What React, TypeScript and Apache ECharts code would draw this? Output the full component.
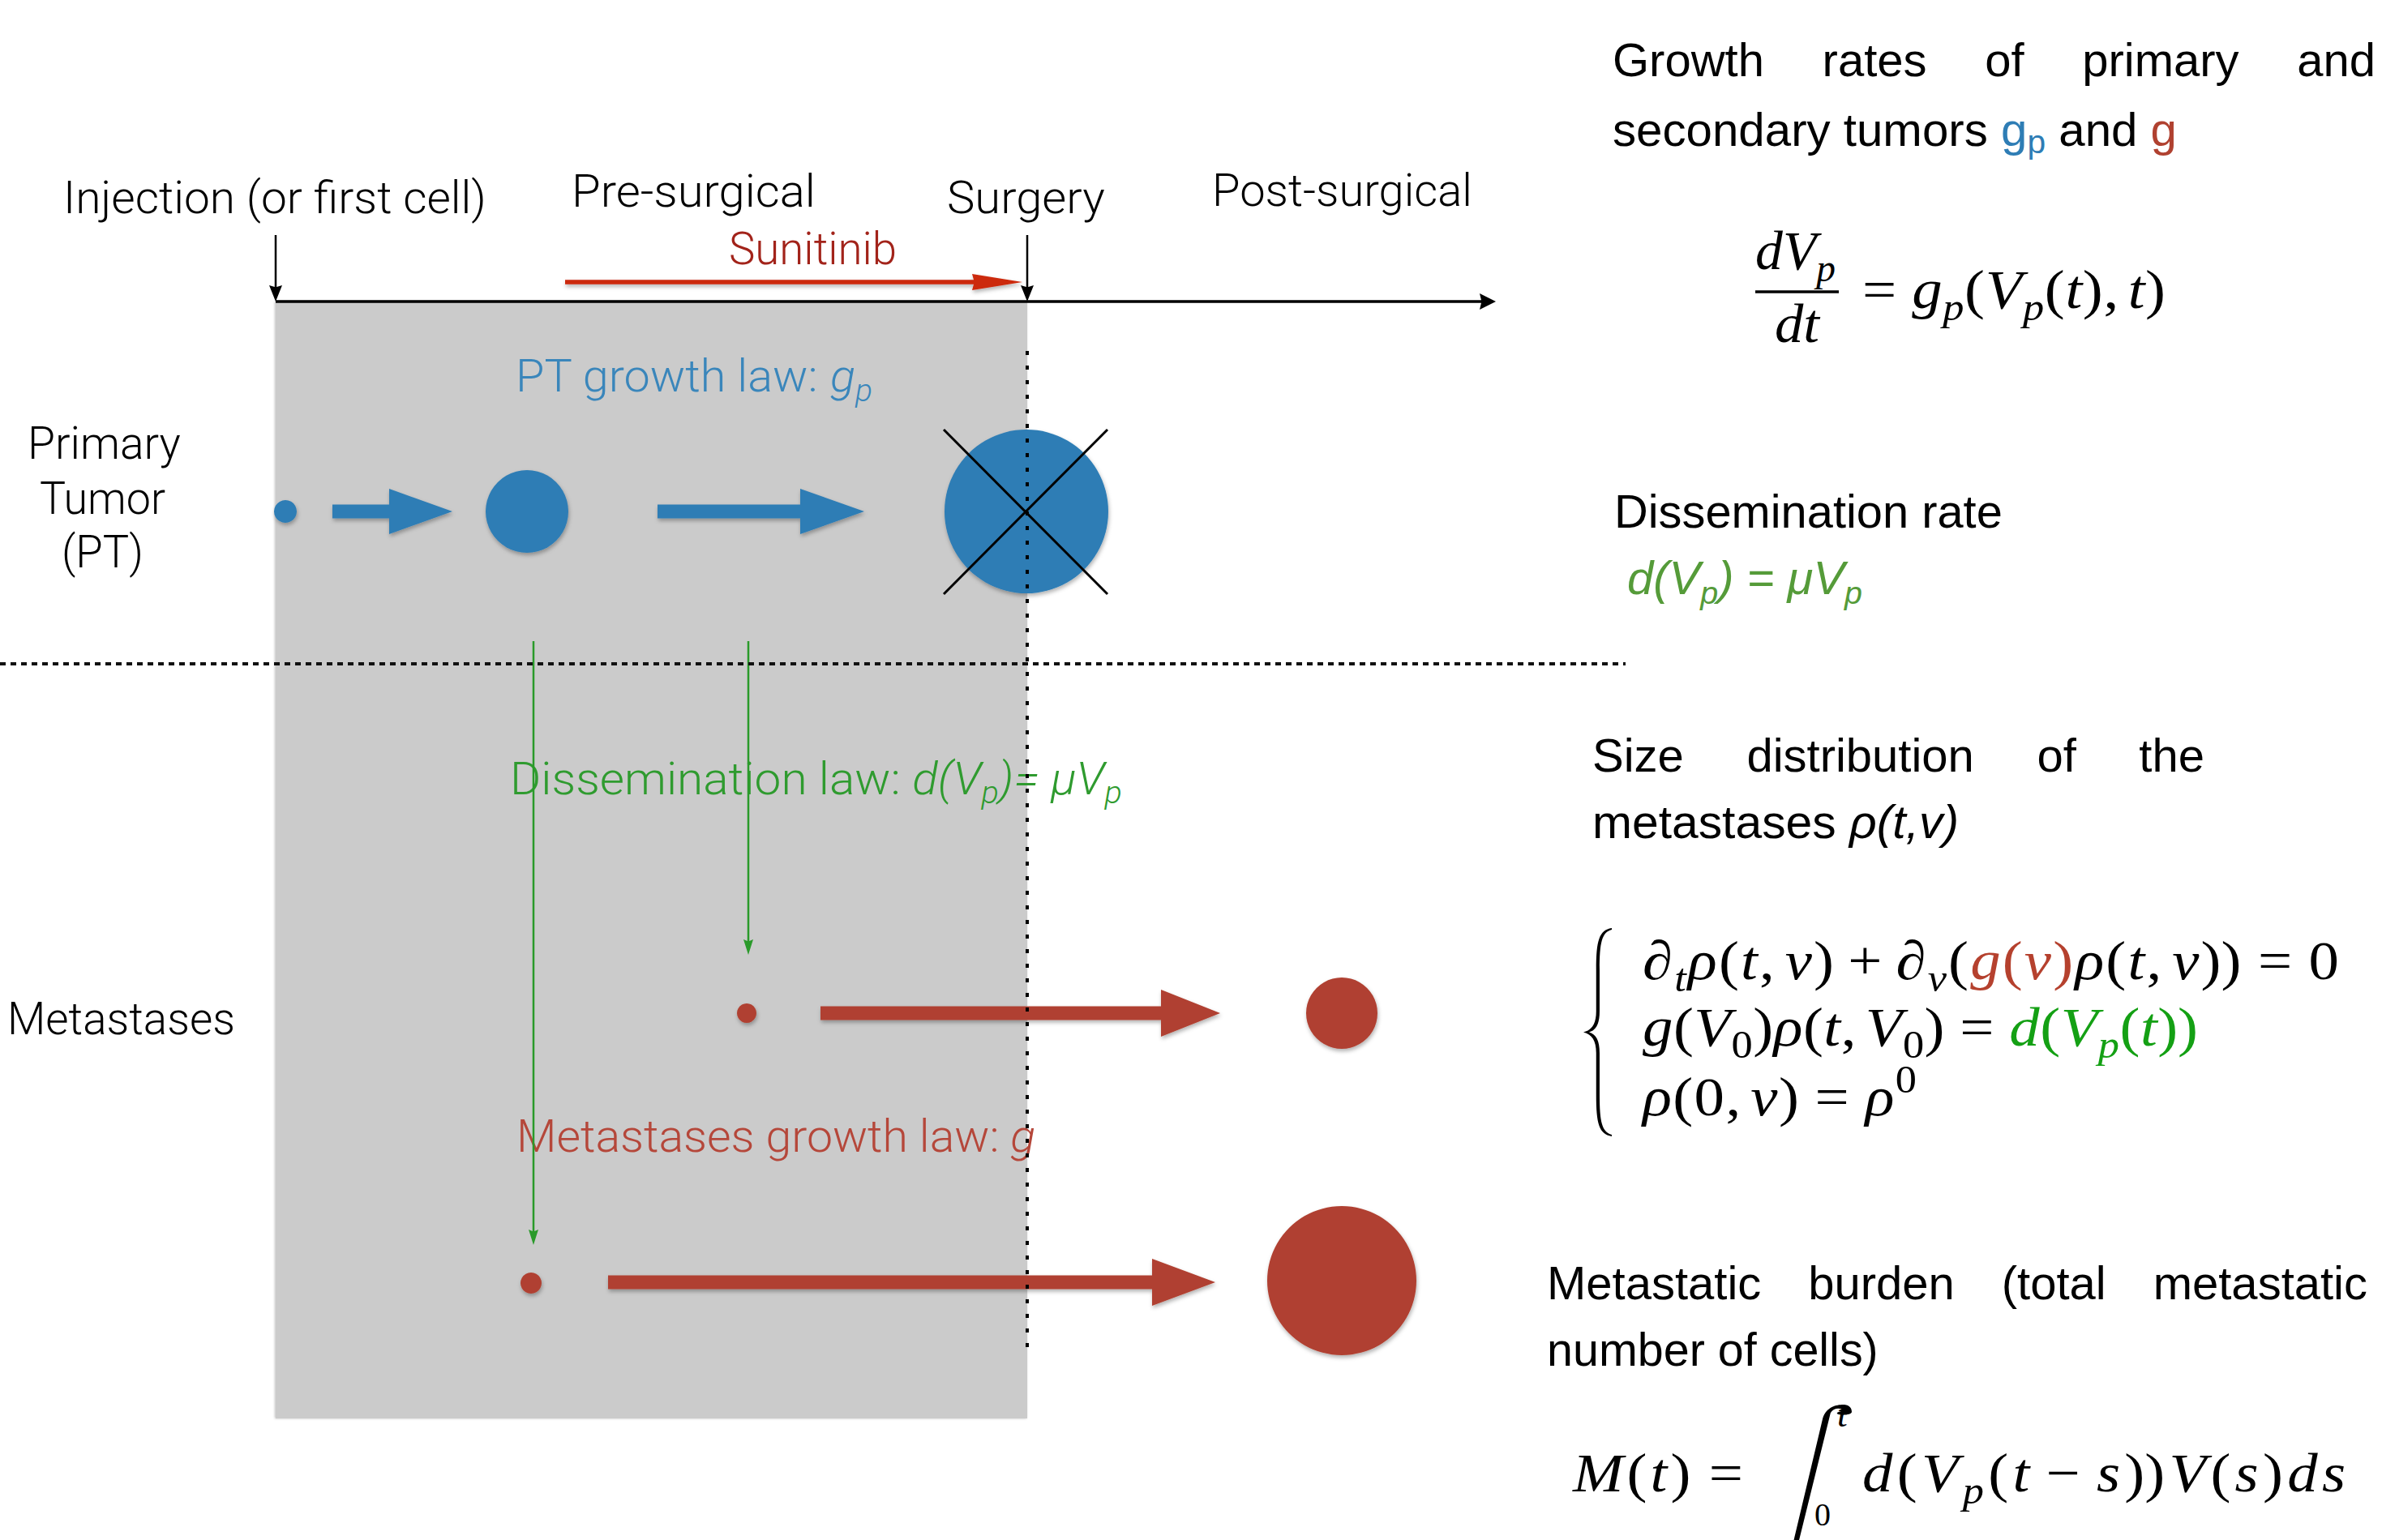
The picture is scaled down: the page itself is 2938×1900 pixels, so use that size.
import React, { useEffect, useRef } from 'react';
import * as echarts from 'echarts';

const CANVAS_W = 2938;
const CANVAS_H = 1900;

// ---------------- colours ----------------
const BLUE = '#2e7db5';
const RED = '#b04130';
const GRAY = '#cbcbcb';
const GREEN_LINE = '#2a9a2a';
const LABEL_BLUE = '#3a86bb';
const LABEL_GREEN = '#2f9b2f';
const LABEL_RED = '#b5473a';
const DRUG_RED = '#a2231a';
const DRUG_ARROW = '#cc2a0e';
const RATE_GREEN = '#559b39';
const EQ_GREEN = '#14a014';
const EQ_RED = '#b5412e';

// ---------------- geometry (diagram units = px of the reference) ----------------
const panelRect = [[340, 372, 1267, 1750]];
const phaseDivider = [[1267, 433, 1267, 1662]];
const compartmentDivider = [[0, 819, 2005, 819]];
const timeAxis = [[340, 372, 1845, 372]];
const eventArrows = [[340, 290, 340, 372], [1267, 290, 1267, 372]];
const drugArrow = [[697, 348, 1261, 348]];
const disseminationArrows = [[658, 791, 658, 1536], [923, 791, 923, 1178]];
// [x start, x head start, x tip, y]
const ptGrowthArrows = [[410, 480, 558, 631], [811, 987, 1066, 631]];
const metGrowthArrows = [[1012, 1432, 1505, 1250], [750, 1421, 1499, 1582]];
// [cx, cy, r]
const ptTumors = [[352, 631, 14], [650, 631, 51], [1266, 631, 101]];
const metTumors = [[921, 1250, 12], [1655, 1250, 44], [655, 1583, 13], [1655, 1580, 92]];
const surgeryCross = [[1164, 530, 1366, 733], [1164, 733, 1366, 530]];
const fractionBars = [[2165, 360, 2268, 360]];
const braces = [[1953, 1145, 1988, 1402]];
const integrals = [[2165, 1733, 2284, 2000]];

// ---------------- texts ----------------
const timelineLabels = ['Injection (or first cell)', 'Pre-surgical', 'Surgery', 'Post-surgical'];
const timelineLabelBoxes = [[78, 600, 263], [705, 1006, 255], [1168, 1363, 263], [1495, 1816, 254]];
const drugLabel = 'Sunitinib';
const drugLabelBox = [899, 1106, 326];
const compartmentLabels = ['Primary', 'Tumor', '(PT)', 'Metastases'];
const compartmentBoxes = [[34, 223, 566], [49, 204, 634], [76, 177, 700], [9, 290, 1276]];
const justifiedTitles = ['Growth rates of primary and', 'Size distribution of the', 'Metastatic burden (total metastatic'];
const justifiedBoxes = [[1989, 2930, 94], [1964, 2719, 952], [1908, 2920, 1603]];

type Seg = [string, string, string?];
interface TextLine { segs: Seg[]; left: number; right?: number; base: number; size: number; color: string; justify?: boolean; spread?: boolean; }

const LEFT_SIZE = 56;
const RIGHT_SIZE = 58;
const MATH_SIZE = 68;

const STYLES: Record<string, { family: string; weight: number; italic: boolean; scale: number; shift: number }> = {
  L: { family: 'Roboto', weight: 300, italic: false, scale: 1, shift: 0 },
  LI: { family: 'Roboto', weight: 300, italic: true, scale: 1, shift: 0 },
  LIs: { family: 'Roboto', weight: 300, italic: true, scale: 0.68, shift: 0.2 },
  S: { family: '"Liberation Sans"', weight: 400, italic: false, scale: 1, shift: 0 },
  Ss: { family: '"Liberation Sans"', weight: 400, italic: false, scale: 0.7, shift: 0.15 },
  SI: { family: '"Liberation Sans"', weight: 400, italic: true, scale: 1, shift: 0 },
  SIs: { family: '"Liberation Sans"', weight: 400, italic: true, scale: 0.68, shift: 0.2 },
  M: { family: '"Liberation Serif"', weight: 400, italic: false, scale: 1, shift: 0 },
  MI: { family: '"Liberation Serif"', weight: 400, italic: true, scale: 1, shift: 0 },
  MIs: { family: '"Liberation Serif"', weight: 400, italic: true, scale: 0.7, shift: 0.22 },
  Ms: { family: '"Liberation Serif"', weight: 400, italic: false, scale: 0.7, shift: 0.22 },
  Mp: { family: '"Liberation Serif"', weight: 400, italic: false, scale: 0.7, shift: -0.42 },
};

const textLines: TextLine[] = [];
timelineLabels.forEach((t, i) => {
  const b = timelineLabelBoxes[i];
  textLines.push({ segs: [[t, 'L']], left: b[0], right: b[1], base: b[2], size: LEFT_SIZE, color: '#000' });
});
textLines.push({ segs: [[drugLabel, 'L']], left: drugLabelBox[0], right: drugLabelBox[1], base: drugLabelBox[2], size: LEFT_SIZE, color: DRUG_RED });
compartmentLabels.forEach((t, i) => {
  const b = compartmentBoxes[i];
  textLines.push({ segs: [[t, 'L']], left: b[0], right: b[1], base: b[2], size: LEFT_SIZE, color: '#000' });
});
textLines.push({ segs: [['PT growth law: ', 'L'], ['g', 'LI'], ['p', 'LIs']], left: 636, right: 1076, base: 483, size: LEFT_SIZE, color: LABEL_BLUE });
textLines.push({ segs: [['Dissemination law: ', 'L'], ['d(V', 'LI'], ['p', 'LIs'], [')= \u03bcV', 'LI'], ['p', 'LIs']], left: 629, right: 1384, base: 980, size: LEFT_SIZE, color: LABEL_GREEN });
textLines.push({ segs: [['Metastases growth law: ', 'L'], ['g', 'LI']], left: 637, right: 1277, base: 1421, size: LEFT_SIZE, color: LABEL_RED });

justifiedTitles.forEach((t, i) => {
  const b = justifiedBoxes[i];
  textLines.push({ segs: t.split(' ').map((w) => [w, 'S'] as Seg), left: b[0], right: b[1], base: b[2], size: RIGHT_SIZE, color: '#000', justify: true });
});
textLines.push({ segs: [['secondary tumors ', 'S'], ['g', 'S', BLUE], ['p', 'Ss', BLUE], [' and ', 'S'], ['g', 'S', RED]], left: 1989, right: 2685, base: 180, size: RIGHT_SIZE, color: '#000' });
textLines.push({ segs: [['Dissemination rate', 'S']], left: 1991, right: 2470, base: 651, size: RIGHT_SIZE, color: '#000' });
textLines.push({ segs: [['d(V', 'SI'], ['p', 'SIs'], [') = \u03bcV', 'SI'], ['p', 'SIs']], left: 2007, right: 2297, base: 733, size: RIGHT_SIZE, color: RATE_GREEN });
textLines.push({ segs: [['metastases ', 'S'], ['\u03c1(t,v)', 'SI']], left: 1964, right: 2416, base: 1034, size: RIGHT_SIZE, color: '#000' });
textLines.push({ segs: [['number of cells)', 'S']], left: 1908, right: 2317, base: 1685, size: RIGHT_SIZE, color: '#000' });

// growth-rate equation
textLines.push({ segs: [['d', 'MI'], ['V', 'MI'], ['p', 'MIs']], left: 2165, right: 2264, base: 332, size: MATH_SIZE, color: '#000', spread: true });
textLines.push({ segs: [['d', 'MI'], ['t', 'MI']], left: 2189, right: 2244, base: 422, size: MATH_SIZE, color: '#000', spread: true });
textLines.push({ segs: [['=', 'M'], ['g', 'MI'], ['p', 'MIs'], ['(', 'M'], ['V', 'MI'], ['p', 'MIs'], ['(', 'M'], ['t', 'MI'], [')', 'M'], [',', 'M'], ['t', 'MI'], [')', 'M']], left: 2297, right: 2671, base: 380, size: MATH_SIZE, color: '#000', spread: true });
// size distribution system
textLines.push({ segs: [['\u2202', 'M'], ['t', 'MIs'], ['\u03c1', 'MI'], ['(', 'M'], ['t', 'MI'], [',', 'M'], ['v', 'MI'], [')', 'M'], ['+', 'M'], ['\u2202', 'M'], ['v', 'MIs'], ['(', 'M'], ['g', 'MI', EQ_RED], ['(', 'M', EQ_RED], ['v', 'MI', EQ_RED], [')', 'M', EQ_RED], ['\u03c1', 'MI'], ['(', 'M'], ['t', 'MI'], [',', 'M'], ['v', 'MI'], ['))', 'M'], ['=', 'M'], ['0', 'M']], left: 2026, right: 2885, base: 1208, size: MATH_SIZE, color: '#000', spread: true });
textLines.push({ segs: [['g', 'MI'], ['(', 'M'], ['V', 'MI'], ['0', 'Ms'], [')', 'M'], ['\u03c1', 'MI'], ['(', 'M'], ['t', 'MI'], [',', 'M'], ['V', 'MI'], ['0', 'Ms'], [')', 'M'], ['=', 'M'], ['d', 'MI', EQ_GREEN], ['(', 'M', EQ_GREEN], ['V', 'MI', EQ_GREEN], ['p', 'MIs', EQ_GREEN], ['(', 'M', EQ_GREEN], ['t', 'MI', EQ_GREEN], ['))', 'M', EQ_GREEN]], left: 2026, right: 2711, base: 1290, size: MATH_SIZE, color: '#000', spread: true });
textLines.push({ segs: [['\u03c1', 'MI'], ['(', 'M'], ['0', 'M'], [',', 'M'], ['v', 'MI'], [')', 'M'], ['=', 'M'], ['\u03c1', 'MI'], ['0', 'Mp']], left: 2026, right: 2364, base: 1376, size: MATH_SIZE, color: '#000', spread: true });
// metastatic burden
textLines.push({ segs: [['M', 'MI'], ['(', 'M'], ['t', 'MI'], [')', 'M'], ['=', 'M']], left: 1940, right: 2150, base: 1840, size: MATH_SIZE, color: '#000', spread: true });
textLines.push({ segs: [['d', 'MI'], ['(', 'M'], ['V', 'MI'], ['p', 'MIs'], ['(', 'M'], ['t', 'MI'], ['\u2212', 'M'], ['s', 'MI'], ['))', 'M'], ['V', 'MI'], ['(', 'M'], ['s', 'MI'], [')', 'M'], ['d', 'MI'], ['s', 'MI']], left: 2297, right: 2893, base: 1840, size: MATH_SIZE, color: '#000', spread: true });
textLines.push({ segs: [['t', 'MI']], left: 2266, base: 1760, size: 46, color: '#000' });
textLines.push({ segs: [['0', 'M']], left: 2238, base: 1882, size: 40, color: '#000' });

// ---------------- text layout helpers ----------------
let measureCtx: CanvasRenderingContext2D | null = null;
function fontOf(family: string, weight: number, italic: boolean, size: number) {
  return `${italic ? 'italic' : 'normal'} ${weight} ${size}px ${family}`;
}
function measure(text: string, font: string, size: number) {
  if (!measureCtx) measureCtx = document.createElement('canvas').getContext('2d');
  const ctx = measureCtx!;
  ctx.font = font;
  const m = ctx.measureText(text);
  const asc = (m as any).fontBoundingBoxAscent ?? size * 0.9;
  const desc = (m as any).fontBoundingBoxDescent ?? size * 0.21;
  return { w: m.width, mid: (asc - desc) / 2 };
}

function textEl(x: number, y: number, sx: number, it: any) {
  return { type: 'text', x, y, scaleX: sx, style: { text: it.t, font: it.font, fill: it.fill, align: 'left', verticalAlign: 'middle' } };
}

const BIN = ['=', '+', '\u2212'];

function layoutLine(line: TextLine, api: any) {
  const origin = api.coord([line.left, line.base]);
  const rightPx = line.right != null ? api.coord([line.right, line.base])[0] : null;
  const items = line.segs.map(([t, k, col]) => {
    const st = STYLES[k];
    const size = line.size * st.scale;
    const font = fontOf(st.family, st.weight, st.italic, size);
    const m = measure(t, font, size);
    return { t, k, font, w: m.w, mid: m.mid, dy: st.shift * line.size, fill: col || line.color };
  });
  const natural = items.reduce((s, it) => s + it.w, 0);
  const out: any[] = [];
  const target = rightPx != null ? rightPx - origin[0] : natural;
  if (line.justify && items.length > 1) {
    const gap = (target - natural) / (items.length - 1);
    let x = origin[0];
    items.forEach((it) => {
      out.push(textEl(x, origin[1] + it.dy - it.mid, 1, it));
      x += it.w + gap;
    });
    return out;
  }
  if (line.spread && items.length > 1) {
    const em = line.size;
    // TeX-like fixed spacing around relations / binary operators and after commas
    const fixed = items.map((it, i) => {
      if (i === items.length - 1) return 0;
      const nxt = items[i + 1];
      if (it.t === '=' || nxt.t === '=') return 0.27 * em;
      if (BIN.includes(it.t) || BIN.includes(nxt.t)) return 0.22 * em;
      if (it.t === ',') return 0.16 * em;
      return 0;
    });
    const fixedSum = fixed.reduce((s, v) => s + v, 0);
    const sx = Math.max(0.85, Math.min(1.1, (target - fixedSum) / natural));
    const per = (target - natural * sx - fixedSum) / (items.length - 1);
    let x = origin[0];
    items.forEach((it, i) => {
      out.push(textEl(x, origin[1] + it.dy - it.mid, sx, it));
      x += it.w * sx + fixed[i] + per;
    });
    return out;
  }
  let sx = 1;
  if (rightPx != null && natural > 0) sx = Math.max(0.82, Math.min(1.2, target / natural));
  let x = origin[0];
  items.forEach((it) => {
    out.push(textEl(x, origin[1] + it.dy - it.mid, sx, it));
    x += it.w * sx;
  });
  return out;
}

// ---------------- renderers ----------------
const SHADOW = { shadowBlur: 5, shadowOffsetX: 1, shadowOffsetY: 3, shadowColor: 'rgba(0,0,0,0.3)' };

function segmentRenderer(stroke: string, lineWidth: number, lineDash?: number[]) {
  return (params: any, api: any) => {
    const p1 = api.coord([api.value(0), api.value(1)]);
    const p2 = api.coord([api.value(2), api.value(3)]);
    return { type: 'line', shape: { x1: p1[0], y1: p1[1], x2: p2[0], y2: p2[1] }, style: { stroke, lineWidth, lineDash, fill: null } };
  };
}

// thin arrow: shaft drawn as a thin polygon so that it can carry a shadow
function arrowRenderer(color: string, lineWidth: number, headLen: number, headHalf: number, shadow = false) {
  return (params: any, api: any) => {
    const p1 = api.coord([api.value(0), api.value(1)]);
    const p2 = api.coord([api.value(2), api.value(3)]);
    const dx = p2[0] - p1[0];
    const dy = p2[1] - p1[1];
    const len = Math.hypot(dx, dy) || 1;
    const ux = dx / len, uy = dy / len;
    const nx = -uy, ny = ux;
    const bx = p2[0] - ux * (headLen - 2), by = p2[1] - uy * (headLen - 2);
    const hx = p2[0] - ux * headLen, hy = p2[1] - uy * headLen;
    const w = lineWidth / 2;
    const extra = shadow ? SHADOW : {};
    return {
      type: 'polygon',
      shape: {
        points: [
          [p1[0] + nx * w, p1[1] + ny * w],
          [bx + nx * w, by + ny * w],
          [hx + nx * headHalf, hy + ny * headHalf],
          [p2[0], p2[1]],
          [hx - nx * headHalf, hy - ny * headHalf],
          [bx - nx * w, by - ny * w],
          [p1[0] - nx * w, p1[1] - ny * w],
        ],
      },
      style: { fill: color, ...extra },
    };
  };
}

function blockArrowRenderer(color: string, shaftHalf: number, headHalf: number) {
  return (params: any, api: any) => {
    const y = api.value(3);
    const a = api.coord([api.value(0), y]);
    const h = api.coord([api.value(1), y]);
    const t = api.coord([api.value(2), y]);
    const cy = a[1];
    return {
      type: 'polygon',
      shape: { points: [[a[0], cy - shaftHalf], [h[0], cy - shaftHalf], [h[0], cy - headHalf], [t[0], cy], [h[0], cy + headHalf], [h[0], cy + shaftHalf], [a[0], cy + shaftHalf]] },
      style: { fill: color, ...SHADOW },
    };
  };
}

function circleRenderer(color: string) {
  return (params: any, api: any) => {
    const c = api.coord([api.value(0), api.value(1)]);
    const r = api.size([api.value(2), 0])[0];
    return { type: 'circle', shape: { cx: c[0], cy: c[1], r }, style: { fill: color, ...SHADOW } };
  };
}

function rectRenderer(color: string) {
  return (params: any, api: any) => {
    const p1 = api.coord([api.value(0), api.value(1)]);
    const p2 = api.coord([api.value(2), api.value(3)]);
    return { type: 'rect', shape: { x: p1[0], y: p1[1], width: p2[0] - p1[0], height: p2[1] - p1[1] }, style: { fill: color, shadowBlur: 3, shadowOffsetX: -1, shadowColor: 'rgba(0,0,0,0.25)' } };
  };
}

// left brace (filled) and integral sign (filled outline) in a 100 x 1000 box
const BRACE_D = 'M100 0 C55 10 45 60 45 200 L45 400 C45 460 30 490 0 500 C30 510 45 540 45 600 L45 800 C45 940 55 990 100 1000 L100 992 C65 980 57 930 57 800 L57 600 C57 540 45 510 20 500 C45 490 57 460 57 400 L57 200 C57 70 65 20 100 8 Z';
const INTEGRAL_D =
  'M100 34 C100 48 88 52 85 42 C83 35 90 30 91 26 C88 13 81 15 78 38 L28 940 C24 992 14 1000 8 1000 ' +
  'C2 1000 0 992 0 966 C0 952 12 948 15 958 C17 965 10 970 9 974 C12 987 19 985 22 962 L70 62 C74 10 84 0 91 0 C98 0 100 18 100 34 Z';

function pathRenderer(d: string) {
  return (params: any, api: any) => {
    const p1 = api.coord([api.value(0), api.value(1)]);
    const p2 = api.coord([api.value(2), api.value(3)]);
    return {
      type: 'path',
      shape: { pathData: d, layout: 'cover', x: p1[0], y: p1[1], width: p2[0] - p1[0], height: p2[1] - p1[1] },
      style: { fill: '#000' },
    };
  };
}

function custom(name: string, data: number[][], renderItem: any) {
  return { type: 'custom', name, coordinateSystem: 'cartesian2d', data, renderItem, silent: true, clip: false };
}

function buildOption() {
  return {
    animation: false,
    backgroundColor: '#ffffff',
    grid: { left: 0, right: 0, top: 0, bottom: 0 },
    xAxis: { type: 'value', min: 0, max: CANVAS_W, show: false },
    yAxis: { type: 'value', min: 0, max: CANVAS_H, inverse: true, show: false },
    series: [
      custom('panel', panelRect, rectRenderer(GRAY)),
      custom('ptArrows', ptGrowthArrows, blockArrowRenderer(BLUE, 8.5, 28)),
      custom('metArrows', metGrowthArrows, blockArrowRenderer(RED, 8.5, 29)),
      custom('ptTumors', ptTumors, circleRenderer(BLUE)),
      custom('metTumors', metTumors, circleRenderer(RED)),
      {
        type: 'custom', name: 'texts', coordinateSystem: 'cartesian2d', silent: true, clip: false,
        data: textLines.map((l) => [l.left, l.base]),
        renderItem: (params: any, api: any) => ({ type: 'group', children: layoutLine(textLines[params.dataIndex], api) }),
      },
      custom('dissemination', disseminationArrows, arrowRenderer(GREEN_LINE, 2.5, 19, 6)),
      custom('timeAxis', timeAxis, arrowRenderer('#000', 3.5, 20, 10)),
      custom('events', eventArrows, arrowRenderer('#000', 2.5, 20, 8)),
      custom('drug', drugArrow, arrowRenderer(DRUG_ARROW, 5.5, 62, 10, true)),
      custom('phaseDivider', phaseDivider, segmentRenderer('#000', 4, [5, 13])),
      custom('compartmentDivider', compartmentDivider, segmentRenderer('#111', 4, [7, 6])),
      custom('surgery', surgeryCross, segmentRenderer('#000', 3)),
      custom('fraction', fractionBars, segmentRenderer('#000', 3.5)),
      custom('brace', braces, pathRenderer(BRACE_D)),
      custom('integral', integrals, pathRenderer(INTEGRAL_D)),
    ],
  };
}

export default function App() {
  const ref = useRef<HTMLDivElement>(null);
  useEffect(() => {
    const chart = echarts.init(ref.current!, undefined, { renderer: 'svg', width: CANVAS_W, height: CANVAS_H });
    chart.setOption(buildOption() as any);
    return () => chart.dispose();
  }, []);
  return <div ref={ref} style={{ position: 'absolute', left: 0, top: 0, width: CANVAS_W, height: CANVAS_H, background: '#fff' }} />;
}
